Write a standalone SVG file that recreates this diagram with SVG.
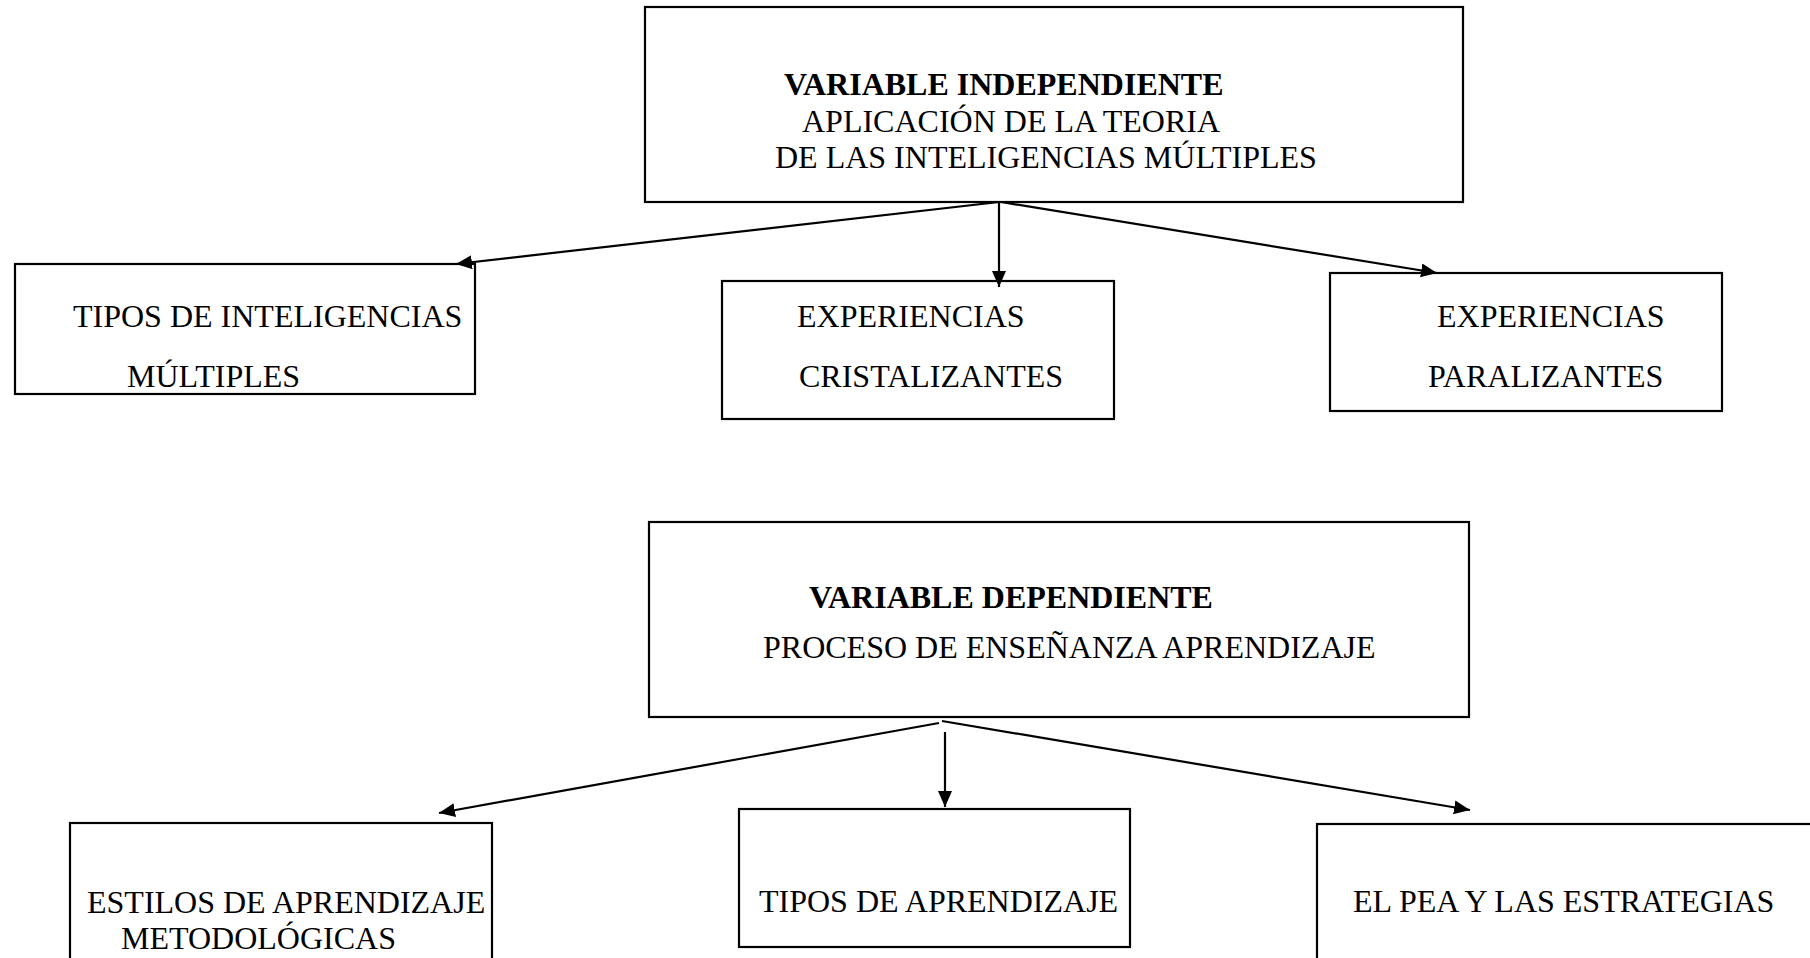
<svg xmlns="http://www.w3.org/2000/svg" width="1810" height="958" viewBox="0 0 1810 958">
<style>
.box{fill:#fff;stroke:#000;stroke-width:2.2}
.t{font-family:"Liberation Serif","Times New Roman",serif;font-size:32px;fill:#000}
.b{font-weight:bold}
.c{stroke:#000;stroke-width:2.2;fill:none}
</style>
<defs>
<marker id="ah" markerUnits="userSpaceOnUse" markerWidth="17" markerHeight="15" refX="16" refY="7" orient="auto">
<path d="M0,0 L16,7 L0,14 z" fill="#000"/>
</marker>
</defs>
<rect width="1810" height="958" fill="#fff"/>
<g id="n-indep">
<rect class="box" x="645" y="7" width="818" height="195"/>
<text class="t b" x="784" y="95">VARIABLE INDEPENDIENTE</text>
<text class="t" x="802" y="132">APLICACIÓN DE LA TEORIA</text>
<text class="t" x="775" y="168">DE LAS INTELIGENCIAS MÚLTIPLES</text>
</g>
<g id="n-tipos-int">
<rect class="box" x="15" y="264" width="460" height="130"/>
<text class="t" x="73" y="327">TIPOS DE INTELIGENCIAS</text>
<text class="t" x="127" y="387">MÚLTIPLES</text>
</g>
<g id="n-cristal">
<rect class="box" x="722" y="281" width="392" height="138"/>
<text class="t" x="797" y="327">EXPERIENCIAS</text>
<text class="t" x="799" y="387">CRISTALIZANTES</text>
</g>
<g id="n-paral">
<rect class="box" x="1330" y="273" width="392" height="138"/>
<text class="t" x="1437" y="327">EXPERIENCIAS</text>
<text class="t" x="1428" y="387">PARALIZANTES</text>
</g>
<g id="n-dep">
<rect class="box" x="649" y="522" width="820" height="195"/>
<text class="t b" x="809" y="608">VARIABLE DEPENDIENTE</text>
<text class="t" x="763" y="658">PROCESO DE ENSEÑANZA APRENDIZAJE</text>
</g>
<g id="n-estilos">
<rect class="box" x="70" y="823" width="422" height="150"/>
<text class="t" x="87" y="913">ESTILOS DE APRENDIZAJE</text>
<text class="t" x="121" y="949">METODOLÓGICAS</text>
</g>
<g id="n-tipos-apr">
<rect class="box" x="739" y="809" width="391" height="138"/>
<text class="t" x="759" y="912">TIPOS DE APRENDIZAJE</text>
</g>
<g id="n-pea">
<rect class="box" x="1317" y="824" width="510" height="150"/>
<text class="t" x="1353" y="912">EL PEA Y LAS ESTRATEGIAS</text>
</g>
<g id="connectors">
<line class="c" x1="999" y1="202" x2="456" y2="264" marker-end="url(#ah)"/>
<line class="c" x1="999" y1="202" x2="999" y2="287" marker-end="url(#ah)"/>
<line class="c" x1="1001" y1="202" x2="1437" y2="273" marker-end="url(#ah)"/>
<line class="c" x1="939" y1="723" x2="439" y2="813" marker-end="url(#ah)"/>
<line class="c" x1="945" y1="732" x2="945" y2="807" marker-end="url(#ah)"/>
<line class="c" x1="942" y1="721" x2="1470" y2="810" marker-end="url(#ah)"/>
</g>
</svg>
